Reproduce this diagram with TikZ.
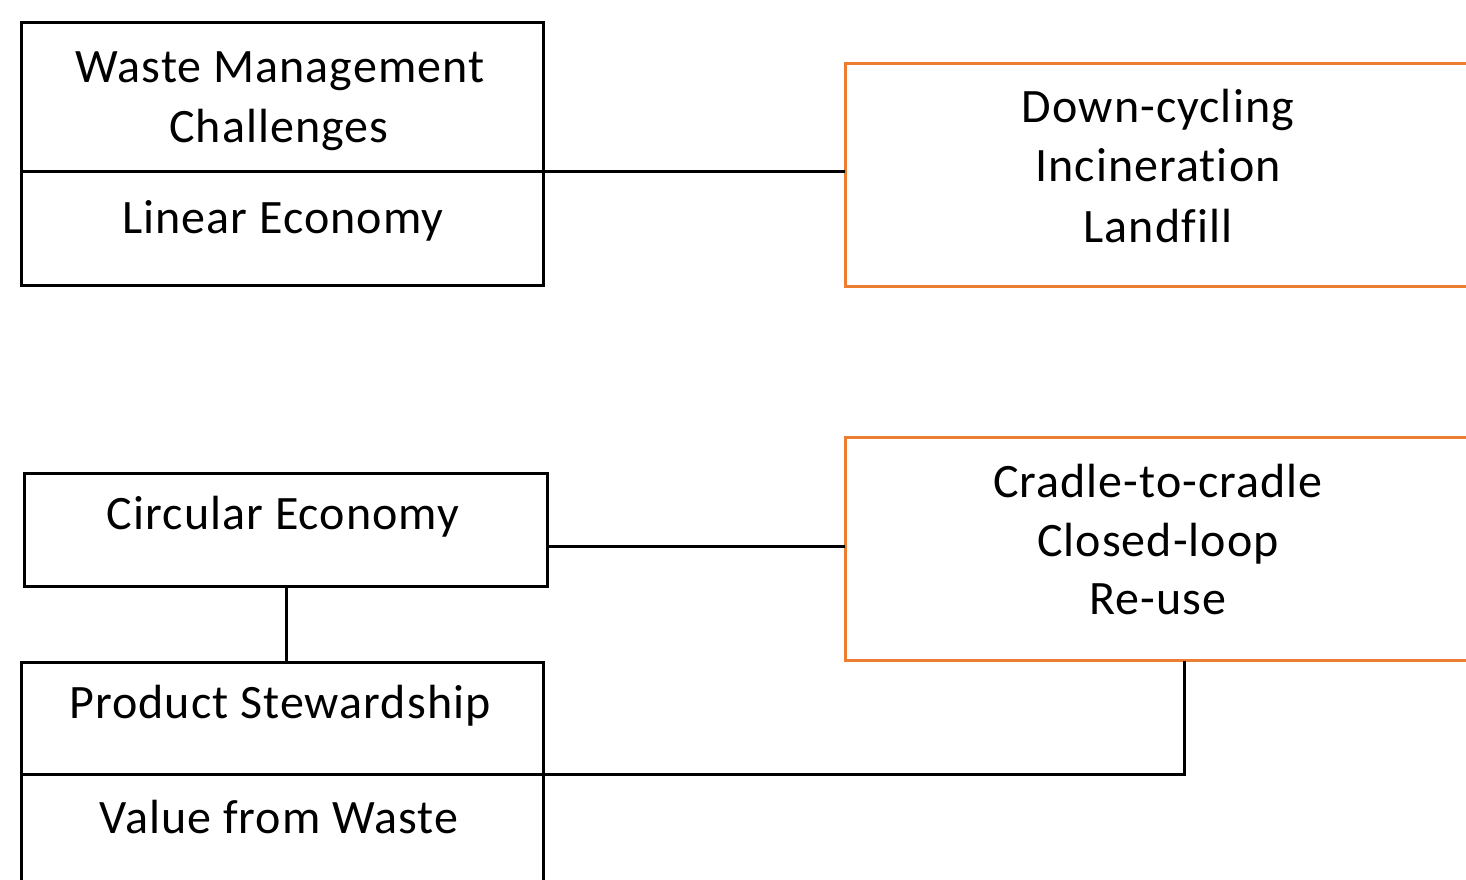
\documentclass[tikz,border=0pt]{standalone}
\usepackage{fontspec}
\setmainfont{Carlito}[LetterSpace=2.2,Ligatures=NoCommon]
\definecolor{boxorange}{HTML}{ED7D31}
\begin{document}
\begin{tikzpicture}[x=1pt,y=-1pt,
  frame/.style={draw=black,line width=3pt,rectangle,inner sep=0pt,outer sep=0pt},
  oframe/.style={frame,draw=boxorange},
  label/.style={anchor=base,inner sep=0pt,font=\fontsize{48}{60}\selectfont},
  link/.style={draw=black,line width=3pt}]
\useasboundingbox (0,0) rectangle (1466,879);
\clip (0,0) rectangle (1466,879);

% left column boxes
\node[frame,minimum width=522pt,minimum height=149pt] (wm) at (282,97) {};
\node[frame,minimum width=522pt,minimum height=114pt] (le) at (282,228.5) {};
\node[frame,minimum width=523pt,minimum height=113pt] (circ) at (286,529.5) {};
\node[frame,minimum width=522pt,minimum height=112.5pt] (ps) at (282,718.25) {};
\node[frame,minimum width=522pt,minimum height=125.5pt] (vw) at (282,837.25) {};

% right column boxes
\node[oframe,minimum width=627pt,minimum height=223pt] (down) at (1158.5,174.5) {};
\node[oframe,minimum width=627pt,minimum height=223pt] (cc) at (1158.5,549) {};

% texts
\node[label] (t1) at (280,82) {Waste Management};
\node[label] (t2) at (279,142) {Challenges};
\node[label] (t3) at (283,233) {Linear Economy};
\node[label] (t4) at (283,529) {Circular Economy};
\node[label] (t5) at (280,718) {Product Stewardship};
\node[label] (t6) at (279,833) {Value from Waste};
\node[label] (t7) at (1158,122) {Down-cycling};
\node[label] (t8) at (1158,181) {Incineration};
\node[label] (t9) at (1158,242) {Landfill};
\node[label] (t10) at (1158,497) {Cradle-to-cradle};
\node[label] (t11) at (1158,556) {Closed-loop};
\node[label] (t12) at (1158,614) {Re-use};

% connectors
\draw[link] (wm.south east) -- (wm.south east -| down.west);
\draw[link] ([yshift=3pt]circ.east |- cc.west) -- ([yshift=3pt]cc.west);
\draw[link] (circ.south) -- (circ.south |- ps.north);
\draw[link] (ps.south east) -| ([xshift=25.5pt]cc.south);
\end{tikzpicture}
\end{document}
